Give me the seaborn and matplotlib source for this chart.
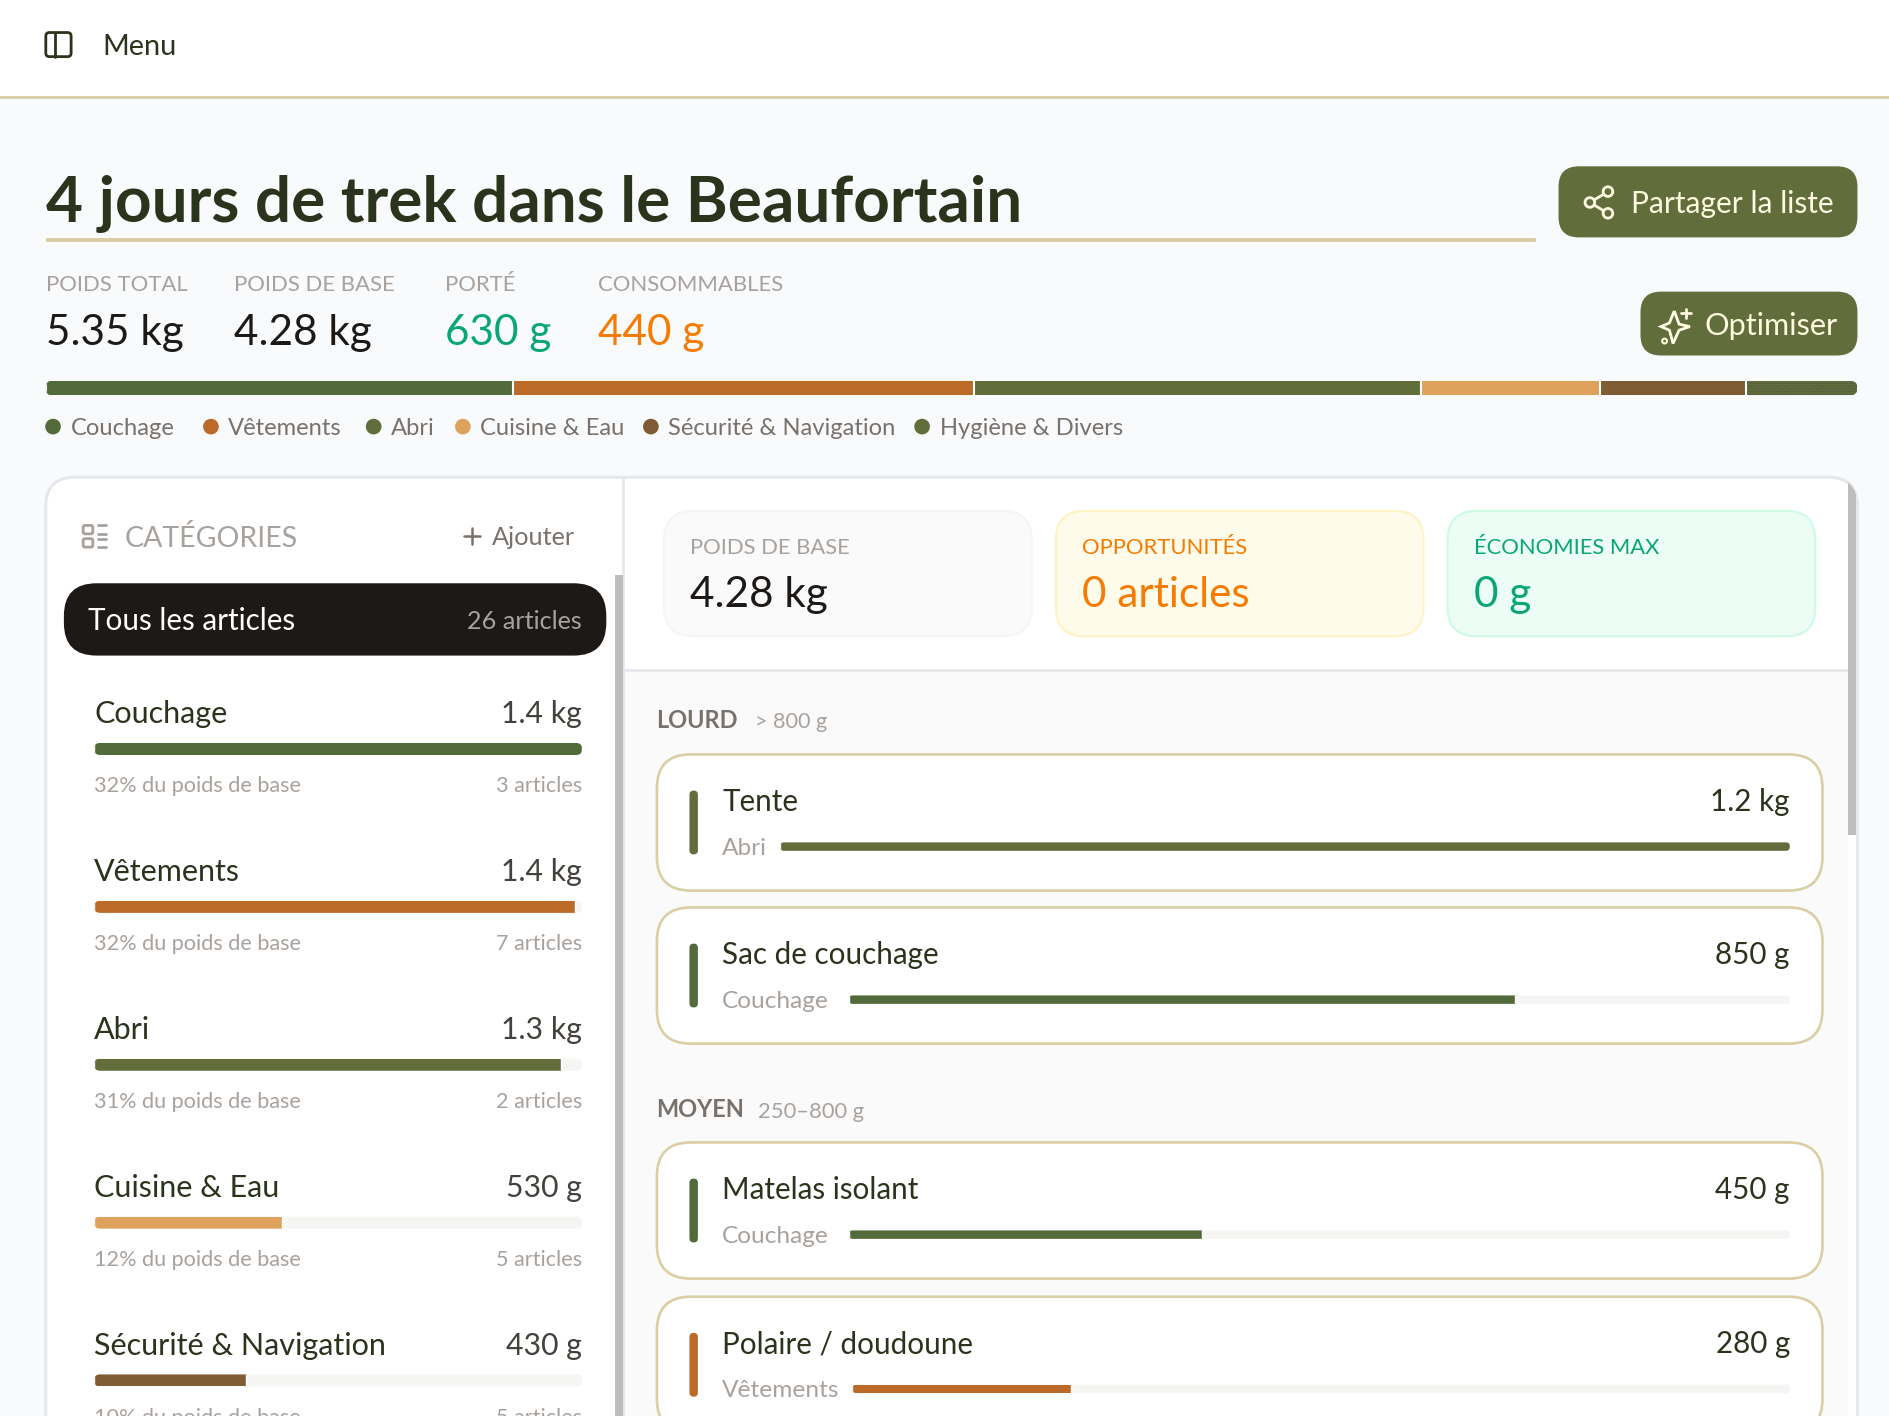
import matplotlib
matplotlib.use("Agg")
import matplotlib.pyplot as plt
from matplotlib.patches import FancyBboxPatch, Rectangle, Circle, PathPatch
from matplotlib.path import Path as MPath
import pandas as pd
import seaborn as sns

# data
CATEGORIES = ["Couchage", "Vêtements", "Abri", "Cuisine & Eau", "Sécurité & Navigation", "Hygiène & Divers"]
CAT_WEIGHTS = [1380, 1360, 1320, 530, 430, 330]
CAT_LABELS = ["1.4 kg", "1.4 kg", "1.3 kg", "530 g", "430 g", "330 g"]
CAT_SHARE = [32, 32, 31, 12, 10, 8]
CAT_COUNTS = [3, 7, 2, 5, 5, 4]
CAT_COLORS = ["#536b3b", "#bb6a27", "#626d3b", "#dea25d", "#7f5c33", "#626d3b"]

ITEM_NAMES = ["Tente", "Sac de couchage", "Matelas isolant", "Polaire / doudoune"]
ITEM_CATS = ["Abri", "Couchage", "Couchage", "Vêtements"]
ITEM_WEIGHTS = [1200, 850, 450, 280]
ITEM_LABELS = ["1.2 kg", "850 g", "450 g", "280 g"]

STAT_LABELS = ["POIDS TOTAL", "POIDS DE BASE", "PORTÉ", "CONSOMMABLES"]
STAT_VALUES = ["5.35 kg", "4.28 kg", "630 g", "440 g"]

W, H = 1568, 1175  # layout units, 1890 px wide once saved
INK = "#1c1917"
DARK = "#2a341c"
GREY = "#a8a29e"
MID = "#78716c"
GREEN = "#0aa675"
ORANGE = "#f57c00"
SAND = "#d9cfa5"
OLIVE = "#626d3c"
CREAM = "#fefae0"
FONT = "Lato"

sns.set_theme(style="white")
plt.rcParams["font.family"] = [FONT, "DejaVu Sans"]
plt.rcParams["hatch.linewidth"] = 0.5

fig = plt.figure(figsize=(18.9, 14.16), dpi=100, facecolor="#f9fafb")
ax = fig.add_axes([0, 0, 1, 1])
ax.set_xlim(0, W)
ax.set_ylim(H, 0)
ax.axis("off")


def label(x, y, s, size, color=INK, ha="left", weight="normal", z=3):
    # y is the middle of the capitals, size in layout units
    ax.text(x, y + 0.36 * size, s, fontsize=size * 0.868, color=color, ha=ha, va="baseline", weight=weight, zorder=z)


def box(x0, y0, x1, y1, r, fc, ec="none", lw=0, z=1):
    p = FancyBboxPatch((x0 + r, y0 + r), x1 - x0 - 2 * r, y1 - y0 - 2 * r, boxstyle=f"round,pad={r},rounding_size={r}",
                       fc=fc, ec=ec, lw=lw, zorder=z)
    ax.add_patch(p)
    return p


def bar_axes(x0, y0, x1, y1, vmax):
    a = fig.add_axes([x0 / W, 1 - y1 / H, (x1 - x0) / W, (y1 - y0) / H], zorder=2)
    a.patch.set_alpha(0)
    a.set_xlim(0, vmax)
    return a


def meter(x0, y0, x1, y1, value, vmax, color):
    track = box(x0, y0, x1, y1, (y1 - y0) / 2, "#f5f5f4", z=3)
    a = bar_axes(x0, y0, x1, y1, vmax)
    sns.barplot(x=[value], y=[0], orient="h", color=color, saturation=1, width=1, ax=a, native_scale=True)
    a.set_xlim(0, vmax)
    a.set_ylim(-0.3, 0.3)
    a.axis("off")
    for b in a.patches:
        b.set_clip_path(track)


# top bar
ax.add_patch(Rectangle((0, 0), W, 80, fc="white", ec="none"))
ax.plot([0, W], [80.5, 80.5], color=SAND, lw=2)
box(38, 27, 59, 47, 3, "none", ec="#2a341c", lw=2)
ax.plot([46, 46], [27, 47], color="#2a341c", lw=2)
label(85, 37, "Menu", 24, DARK)

# title
label(38, 165, "4 jours de trek dans le Beaufortain", 53, DARK, weight="bold")
ax.add_patch(Rectangle((38, 197.5), 1236, 3.5, fc=SAND, ec="none"))

# buttons
box(1293, 138, 1541, 197, 17, OLIVE)
pts = [(1334, 159), (1319, 168), (1334, 177)]
ax.plot([p[0] for p in pts], [p[1] for p in pts], color=CREAM, lw=2, zorder=3)
for p in pts:
    ax.add_patch(Circle(p, 4, fc=OLIVE, ec=CREAM, lw=2, zorder=4))
label(1353, 168, "Partager la liste", 24.8, CREAM)
box(1361, 242, 1541, 295, 17, OLIVE)
star = MPath([(1389, 258), (1393, 269), (1402, 271), (1393, 274), (1388, 285), (1385, 274), (1378, 271), (1385, 268), (1389, 258)])
ax.add_patch(PathPatch(star, fc="none", ec=CREAM, lw=2, zorder=3))
ax.plot([1399, 1399], [256, 264], color=CREAM, lw=2, zorder=3)
ax.plot([1395, 1403], [260, 260], color=CREAM, lw=2, zorder=3)
ax.add_patch(Circle((1381, 283), 2, fc="none", ec=CREAM, lw=1.5, zorder=3))
label(1414, 269, "Optimiser", 25.4, CREAM)

# headline numbers
stat_x = [38, 194, 369, 496]
stat_colors = [INK, INK, GREEN, ORANGE]
for x, name, val, c in zip(stat_x, STAT_LABELS, STAT_VALUES, stat_colors):
    label(x, 235, name, 18.4, GREY)
    label(x, 273.5, val, 35, c)

# stacked weight bar, largest cumulative sum first so the shorter ones sit on top
track = box(38, 316, 1541, 328, 6, "#f5f5f4", z=3)
stack_ax = bar_axes(38, 316, 1541, 328, sum(CAT_WEIGHTS))
cumul = pd.Series(CAT_WEIGHTS).cumsum().tolist()
sns.barplot(x=[cumul[-1]], y=[0], orient="h", color=CAT_COLORS[-1], saturation=1, width=1, ax=stack_ax,
            native_scale=True, edgecolor="#4a4f4a", hatch="......", linewidth=0)
for c, col in zip(cumul[-2::-1], CAT_COLORS[-2::-1]):
    sns.barplot(x=[c], y=[0], orient="h", color=col, saturation=1, width=1, ax=stack_ax,
                native_scale=True, edgecolor="white", linewidth=1.5)
stack_ax.set_xlim(0, sum(CAT_WEIGHTS))
stack_ax.set_ylim(-0.3, 0.3)
stack_ax.axis("off")
for b in stack_ax.patches:
    b.set_clip_path(track)

# legend
dot_x = [44, 175, 310, 384, 540, 765]
for x, name, col in zip(dot_x, CATEGORIES, CAT_COLORS):
    ax.add_patch(Circle((x, 354), 6.5, fc=col, ec="none"))
    label(x + 14.5, 354, name, 19.7, MID)

# main panel
panel = box(38, 396, 1541, 1300, 24, "white", ec="#e5e7eb", lw=2.2)
ax.add_patch(Rectangle((518, 556), 1015, 640, fc="#fafafa", ec="none", zorder=1.1))
ax.plot([517, 517], [397, H], color="#e5e7eb", lw=2, zorder=1.2)
ax.plot([518, 1533], [556, 556], color="#e5e7eb", lw=2, zorder=1.2)
scroll = Rectangle((1533, 396), 7, 297, fc="#bdbdbd", ec="none", zorder=1.3)
ax.add_patch(scroll)
scroll.set_clip_path(panel)
ax.add_patch(Rectangle((510, 477), 7, 720, fc="#bdbdbd", ec="none", zorder=1.3))

# category sidebar
for y in (436, 447):
    box(69, y, 77, y + 7, 1.5, "none", ec=GREY, lw=2)
    ax.plot([81, 88], [y, y], color=GREY, lw=2)
    ax.plot([81, 88], [y + 7, y + 7], color=GREY, lw=2)
label(103, 445, "CATÉGORIES", 23.6, GREY)
ax.plot([385, 398], [444.5, 444.5], color=MID, lw=1.8)
ax.plot([391.5, 391.5], [438, 451], color=MID, lw=1.8)
label(408, 445, "Ajouter", 21, MID)

box(53, 484, 503, 544, 27, "#1c1917", z=2)
label(73, 514, "Tous les articles", 24.6, "white")
label(483, 514, "26 articles", 21, GREY, ha="right")

max_cat = max(CAT_WEIGHTS)
for i in range(5):
    y = 591 + 131 * i
    label(78, y, CATEGORIES[i], 25.3, DARK)
    label(483, y, CAT_LABELS[i], 25, "#44403c", ha="right")
    meter(78, y + 25.5, 483, y + 35.5, CAT_WEIGHTS[i], max_cat, CAT_COLORS[i])
    label(78, y + 60, f"{CAT_SHARE[i]}% du poids de base", 18, GREY)
    label(483, y + 60, f"{CAT_COUNTS[i]} articles", 18, GREY, ha="right")

# summary cards
cards = [(551, "#fafafa", "#f5f5f5", "POIDS DE BASE", "4.28 kg", GREY, INK),
         (876, "#fffbeb", "#fef3c7", "OPPORTUNITÉS", "0 articles", ORANGE, ORANGE),
         (1201, "#ecfdf5", "#d1fae5", "ÉCONOMIES MAX", "0 g", GREEN, GREEN)]
for x, fc, ec, name, val, c1, c2 in cards:
    box(x, 424, x + 305, 528, 24, fc, ec=ec, lw=1.6)
    label(x + 21.5, 453, name, 18.3, c1)
    label(x + 21.5, 491, val, 35, c2)

# weight groups
label(544, 597, "LOURD", 19.5, MID, weight="bold")
label(626, 598, "> 800 g", 18, GREY)
label(544, 920, "MOYEN", 19.5, MID, weight="bold")
label(629, 921, "250–800 g", 18.3, GREY)

card_top = [626, 753, 948, 1076]
track_x = [647, 704, 704, 707]
max_item = max(ITEM_WEIGHTS)
for i, top in enumerate(card_top):
    col = CAT_COLORS[CATEGORIES.index(ITEM_CATS[i])]
    box(545, top, 1512, top + 113, 28, "white", ec=SAND, lw=1.9, z=2)
    box(572, top + 30, 579, top + 83, 3.5, col, z=3)
    label(599, top + 38, ITEM_NAMES[i], 24.6, DARK)
    label(1485, top + 38, ITEM_LABELS[i], 24.6, DARK, ha="right")
    label(599, top + 76, ITEM_CATS[i], 20.2, GREY)
    meter(track_x[i], top + 73, 1485, top + 80, ITEM_WEIGHTS[i], max_item, col)

fig.savefig("out.png", dpi=100, facecolor=fig.get_facecolor())
